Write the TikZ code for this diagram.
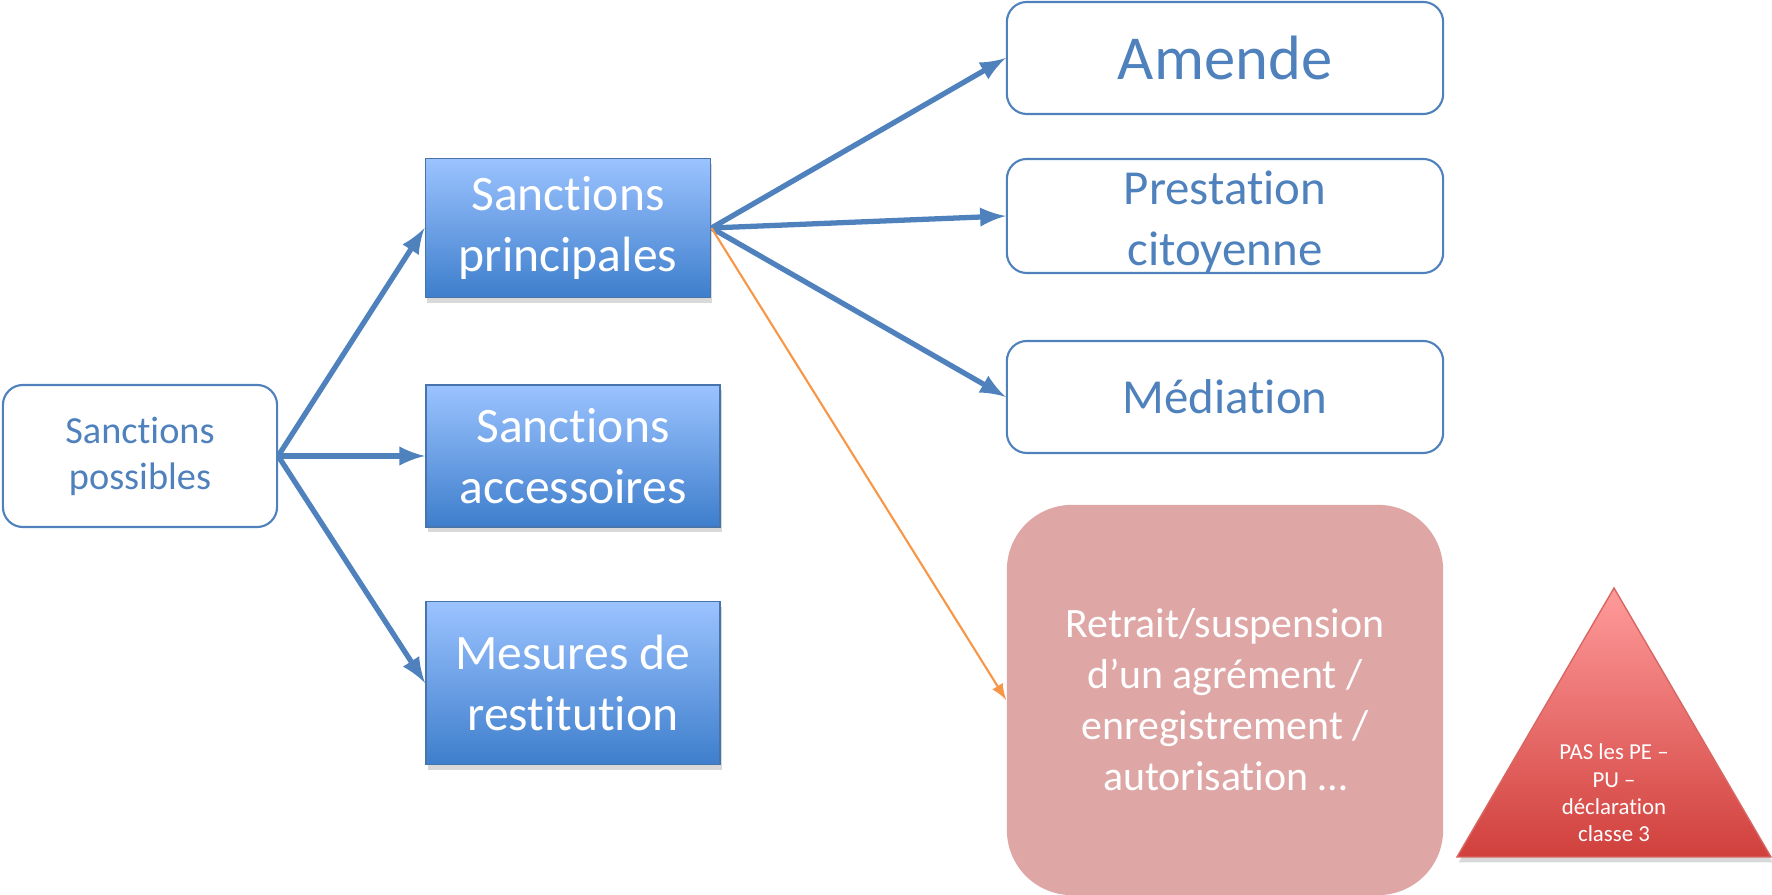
\documentclass[tikz,border=0pt]{standalone}
\usepackage{fontspec}
\setmainfont{Carlito}[RawFeature={-liga;-clig;-calt;-dlig}]
\usetikzlibrary{shadows}

\definecolor{sancblue}{RGB}{79,129,189}
\definecolor{sanctop}{RGB}{155,195,255}
\definecolor{sancbot}{RGB}{62,126,204}
\definecolor{sancrose}{RGB}{223,166,166}
\definecolor{tritop}{RGB}{255,155,155}
\definecolor{tribot}{RGB}{208,64,60}
\definecolor{sancorange}{RGB}{247,150,70}

\begin{document}
\begin{tikzpicture}[x=0.01cm, y=-0.01cm,
    outlinebox/.style={draw=sancblue, line width=0.6pt, fill=white, rounded corners=0.2cm,
        text=sancblue, align=center, inner sep=0pt},
    bluebox/.style={draw=sancblue!90!black, line width=0.5pt, top color=sanctop, bottom color=sancbot,
        text=white, align=center, inner sep=0pt, minimum width=2.94cm,
        drop shadow={shadow xshift=0.5pt, shadow yshift=-1.5pt, opacity=0.3},
        font=\fontsize{14.1}{17.2}\selectfont},
    rightbox/.style={outlinebox, minimum width=4.36cm, minimum height=1.12cm},
    arrowline/.style={-latex, line width=1.5pt, draw=sancblue}]
        \useasboundingbox (0,0) rectangle (1772,895);

        % left box
        \node[outlinebox, minimum width=2.74cm, minimum height=1.42cm,
              font=\fontsize{10.9}{13.1}\selectfont] (possibles) at (140,456) {Sanctions\\possibles};

        % middle column
        \node[bluebox, minimum width=2.85cm, minimum height=1.39cm] (principales) at (568,228) {Sanctions\\principales};
        \node[bluebox, minimum height=1.42cm] (accessoires) at (573,456) {Sanctions\\accessoires};
        \node[bluebox, minimum height=1.63cm] (mesures) at (573,683) {Mesures de\\restitution};

        % right column
        \node[rightbox, font=\fontsize{13.9}{17.2}\selectfont] (prestation) at (1225,216) {\rule{0pt}{13pt}Prestation\\citoyenne};
        \node[rightbox, font=\fontsize{17.8}{21.5}\selectfont] (amende) at (1225,58) {Amende};
        \node[rightbox, font=\fontsize{13.9}{17.2}\selectfont] (mediation) at (1225,397) {Médiation};
        \node[fill=sancrose, rounded corners=0.65cm, minimum width=4.36cm, minimum height=3.9cm,
              text=white, align=center, font=\fontsize{11.9}{14.5}\selectfont] (retrait) at (1225,700)
              {Retrait/suspension\\d’un agrément /\\enregistrement /\\autorisation …};

        % triangle
        \path[draw=tribot!80!white, line width=0.4pt, top color=tritop, bottom color=tribot,
              drop shadow={shadow xshift=0.5pt, shadow yshift=-1.5pt, opacity=0.3}]
              (1614,588) -- (1771,857) -- (1457,857) -- cycle;
        \node[text=white, align=center, font=\fontsize{6.5}{7.8}\selectfont] (pas) at (1614,793)
              {PAS les PE –\\PU –\\déclaration\\classe 3};

        % arrows
        \draw[arrowline] (possibles.east) -- (principales.west);
        \draw[arrowline] (possibles.east) -- (accessoires.west);
        \draw[arrowline] (possibles.east) -- (mesures.west);
        \draw[arrowline] (principales.east) -- (amende.west);
        \draw[arrowline] (principales.east) -- (prestation.west);
        \draw[arrowline] (principales.east) -- (mediation.west);
        \draw[-latex, line width=0.6pt, draw=sancorange] (principales.east) -- (retrait.west);

    \end{tikzpicture}
\end{document}
